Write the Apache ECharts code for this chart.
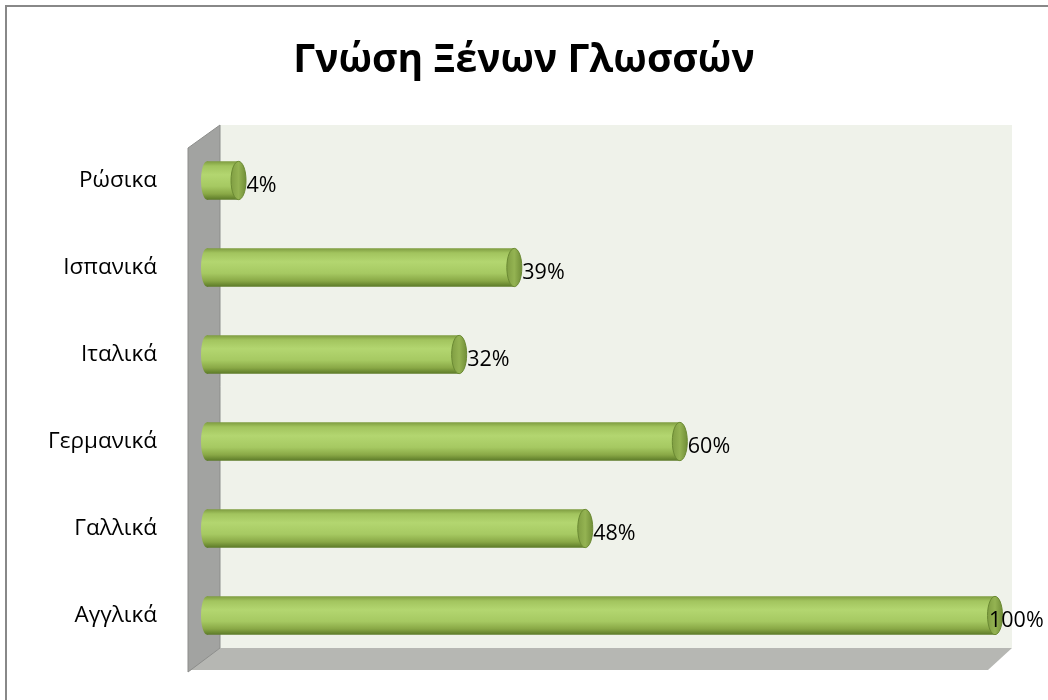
<!DOCTYPE html>
<html>
<head>
<meta charset="utf-8">
<script src="https://cdn.jsdelivr.net/npm/echarts@6/dist/echarts.min.js"></script>
<style>
  html, body { margin: 0; padding: 0; background: #fff; }
  #chart { width: 1048px; height: 700px; }
</style>
</head>
<body>
<div id="chart"></div>
<script>
// Γνώση Ξένων Γλωσσών - cylinder bar chart
const languages = ['Αγγλικά', 'Γαλλικά', 'Γερμανικά', 'Ιταλικά', 'Ισπανικά', 'Ρώσικα'];
const percentages = [100, 48, 60, 32, 39, 4];
const chartTitle = 'Γνώση Ξένων Γλωσσών';

const bodyGradient = {
    type: 'linear', x: 0, y: 0, x2: 0, y2: 1,
    colorStops: [
        { offset: 0, color: '#7e9c40' },
        { offset: 0.12, color: '#a2c45e' },
        { offset: 0.35, color: '#b3d670' },
        { offset: 0.65, color: '#a6c962' },
        { offset: 0.85, color: '#89a846' },
        { offset: 1, color: '#5c7a28' }
    ]
};
const capGradient = {
    type: 'linear', x: 0, y: 0, x2: 1, y2: 0,
    colorStops: [
        { offset: 0, color: '#7f9d42' },
        { offset: 0.5, color: '#94b352' },
        { offset: 1, color: '#6f8c36' }
    ]
};

function renderCylinder(params, api) {
    const val = api.value(0);
    const cat = api.value(1);
    const start = api.coord([0, cat]);
    const end = api.coord([val, cat]);
    const h = api.size([0, 1])[1] * 0.44;
    const cy = start[1];
    const labelX = Math.min(end[0] + 8, 989);
    return {
        type: 'group',
        children: [
            { type: 'ellipse', shape: { cx: start[0], cy: cy, rx: 6, ry: h / 2 }, style: { fill: bodyGradient } },
            { type: 'rect', shape: { x: start[0], y: cy - h / 2, width: end[0] - start[0], height: h }, style: { fill: bodyGradient } },
            { type: 'ellipse', shape: { cx: end[0], cy: cy, rx: 7.5, ry: h / 2 }, style: { fill: capGradient, stroke: '#6b8a33', lineWidth: 1 } },
            {
                type: 'text', z2: 10,
                style: { text: val + '%', x: labelX, y: cy + 5, verticalAlign: 'middle', fill: '#000', fontFamily: 'Open Sans', fontSize: 21.5 }
            }
        ]
    };
}

const chart = echarts.init(document.getElementById('chart'));
chart.setOption({
    animation: false,
    title: {
        text: chartTitle, left: 'center', top: 36,
        textStyle: { fontFamily: 'Open Sans', fontWeight: 'bold', fontSize: 39, color: '#000' }
    },
    grid: { left: 207, right: 53, top: 137, bottom: 41 },
    xAxis: { type: 'value', min: 0, max: 100, show: false },
    yAxis: {
        type: 'category', data: languages,
        axisLine: { show: false }, axisTick: { show: false }, splitLine: { show: false },
        axisLabel: { margin: 50, color: '#000', fontFamily: 'Open Sans', fontSize: 22.5 }
    },
    graphic: [
        { type: 'rect', z: 0, shape: { x: 6, y: 6, width: 1100, height: 800 }, style: { fill: 'none', stroke: '#888', lineWidth: 2 } },
        { type: 'rect', z: 0, shape: { x: 220, y: 125, width: 792, height: 523 }, style: { fill: '#eff2ea' } },
        { type: 'polygon', z: 0, shape: { points: [[188, 670], [220, 648], [1012, 648], [988, 670]] }, style: { fill: '#b6b7b3' } },
        { type: 'polygon', z: 0, shape: { points: [[188, 148], [220, 125], [220, 648], [188, 672]] }, style: { fill: '#a2a3a1', stroke: '#8c8d8b', lineWidth: 1 } }
    ],
    series: [{
        type: 'custom',
        z: 5,
        renderItem: renderCylinder,
        encode: { x: 0, y: 1 },
        data: percentages.map((v, i) => [v, i])
    }]
});
</script>
</body>
</html>
